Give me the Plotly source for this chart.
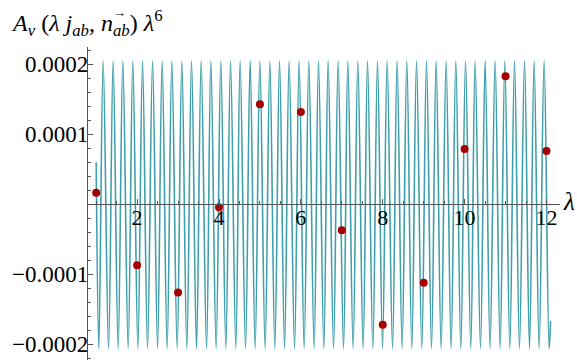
import plotly.graph_objects as go

# --- values ---
START_LAMBDA, START_VALUE = 1.0, 6.0e-5
END_LAMBDA, END_VALUE = 12.1, -1.67e-4

PEAK_VALUE = 2.05e-4
TROUGH_VALUE = -2.06e-4

PEAK_LAMBDA = [
    1.170, 1.414, 1.651, 1.895, 2.132, 2.377, 2.611, 2.848, 3.092, 3.329,
    3.564, 3.801, 4.045, 4.282, 4.516, 4.761, 4.998, 5.242, 5.479, 5.713,
    5.957, 6.194, 6.431, 6.666, 6.910, 7.147, 7.391, 7.628, 7.872, 8.107,
    8.351, 8.588, 8.825, 9.069, 9.304, 9.548, 9.785, 10.022, 10.256, 10.501,
    10.745, 10.982, 11.219, 11.463, 11.698, 11.942,
]
TROUGH_LAMBDA = [
    1.065, 1.302, 1.536, 1.781, 2.018, 2.254, 2.499, 2.733, 2.978, 3.214,
    3.451, 3.696, 3.930, 4.167, 4.411, 4.648, 4.883, 5.127, 5.364, 5.601,
    5.845, 6.080, 6.324, 6.561, 6.798, 7.042, 7.276, 7.521, 7.758, 7.995,
    8.239, 8.473, 8.710, 8.954, 9.191, 9.426, 9.670, 9.907, 10.151, 10.388,
    10.622, 10.867, 11.104, 11.340, 11.585, 11.820, 12.064,
]

DOT_LAMBDA = [1, 2, 3, 4, 5, 6, 7, 8, 9, 10, 11, 12]
DOT_VALUE = [1.66e-5, -8.7e-5, -1.26e-4, -4.3e-6, 1.43e-4, 1.32e-4,
             -3.7e-5, -1.72e-4, -1.12e-4, 7.9e-5, 1.83e-4, 7.6e-5]

X_TICKS = [2, 4, 6, 8, 10, 12]
Y_TICKS = [-2e-4, -1e-4, 1e-4, 2e-4]
Y_TICK_TEXT = ["\u22120.0002", "\u22120.0001", "0.0001", "0.0002"]

TEAL = "#3f9faa"
DARK_RED = "#a80000"
AXIS_GREY = "#555555"
FONT = "Liberation Serif"

# curve vertices: start, alternating troughs / peaks, end
pts = [(START_LAMBDA, START_VALUE), (END_LAMBDA, END_VALUE)]
pts += [(l, PEAK_VALUE) for l in PEAK_LAMBDA]
pts += [(l, TROUGH_VALUE) for l in TROUGH_LAMBDA]
pts.sort()
curve_x = [p[0] for p in pts]
curve_y = [p[1] for p in pts]

X_RANGE = [0.80, 12.33]
Y_RANGE = [-2.224e-4, 2.247e-4]
zero_pos = (0 - Y_RANGE[0]) / (Y_RANGE[1] - Y_RANGE[0])

W, H = 577, 360
ML, MR, MT, MB = 88, 17, 47, 0
PW, PH = W - ML - MR, H - MT - MB


def px_x(x):
    """figure pixel -> paper x"""
    return (x - ML) / PW


def px_y(y):
    """figure pixel (from top) -> paper y"""
    return 1 - (y - MT) / PH


fig = go.Figure()

fig.add_trace(go.Scatter(
    x=curve_x, y=curve_y, mode="lines",
    line=dict(color=TEAL, width=1.6, shape="spline", smoothing=1),
    hoverinfo="skip", showlegend=False,
))

fig.add_trace(go.Scatter(
    x=DOT_LAMBDA, y=DOT_VALUE, mode="markers",
    marker=dict(color=DARK_RED, size=8),
    showlegend=False,
))

fig.update_layout(
    width=W, height=H,
    margin=dict(l=ML, r=MR, t=MT, b=MB),
    paper_bgcolor="white", plot_bgcolor="white",
    font=dict(family=FONT, size=22, color="black"),
    showlegend=False,
)

fig.update_xaxes(
    range=X_RANGE, anchor="free", position=zero_pos,
    showgrid=False, zeroline=False,
    showline=True, linecolor=AXIS_GREY, linewidth=1.2,
    ticks="inside", ticklen=5, tickcolor=AXIS_GREY,
    tickvals=X_TICKS, ticktext=[str(t) for t in X_TICKS],
    tickfont=dict(family=FONT, size=22, color="black"),
    ticklabelstandoff=-7,
    minor=dict(dtick=0.5, tick0=0, ticks="inside", ticklen=3,
               tickcolor=AXIS_GREY, showgrid=False),
)

fig.update_yaxes(
    range=Y_RANGE,
    showgrid=False, zeroline=False,
    showline=True, linecolor=AXIS_GREY, linewidth=1.2,
    ticks="inside", ticklen=5, tickcolor=AXIS_GREY,
    tickvals=Y_TICKS, ticktext=Y_TICK_TEXT,
    tickfont=dict(family=FONT, size=23, color="black"),
    ticklabelstandoff=-6,
    minor=dict(dtick=2e-5, tick0=0, ticks="inside", ticklen=3,
               tickcolor=AXIS_GREY, showgrid=False),
)

# y label (vector arrow over n drawn as its own small text)
fig.add_annotation(
    xref="paper", yref="paper", x=px_x(9), y=px_y(23),
    xanchor="left", yanchor="middle", showarrow=False,
    text="<i>A</i><sub><i>v</i></sub> (<i>\u03bb j</i><sub><i>ab</i></sub>, "
         "<i>n</i><sub><i>ab</i></sub>) <i>\u03bb</i><sup>6</sup>",
    font=dict(family=FONT, size=24, color="black"),
)
fig.add_annotation(
    xref="paper", yref="paper", x=px_x(119), y=px_y(13),
    xanchor="center", yanchor="middle", showarrow=False,
    text="\u2192",
    font=dict(family=FONT, size=13, color="black"),
)
# x label
fig.add_annotation(
    xref="paper", yref="y", x=px_x(569), y=0,
    xanchor="center", yanchor="middle", yshift=3, showarrow=False,
    text="<i>\u03bb</i>",
    font=dict(family=FONT, size=25, color="black"),
)

fig.write_html("out.html", config={"displayModeBar": False},
               post_script="document.body.style.margin='0';")
